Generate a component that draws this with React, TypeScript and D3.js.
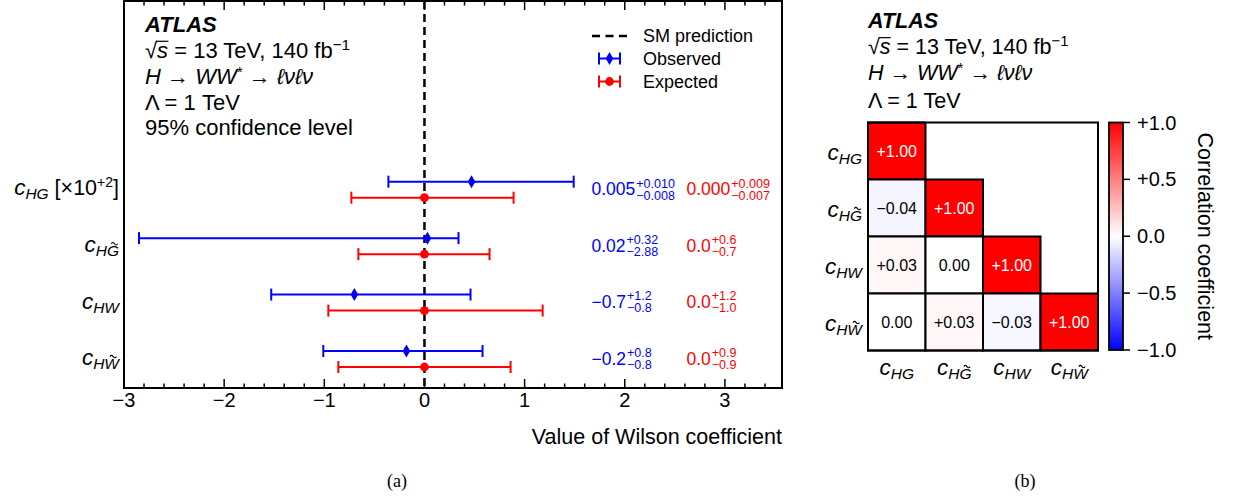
import React from 'react';
import * as d3 from 'd3';

// ---------- data ----------
const coefficients = ['HG', 'HG', 'HW', 'HW'];
const coefTilde = [false, true, false, true];
const obsCentral = [0.47, 0.03, -0.7, -0.18];
const obsLow = [-0.36, -2.85, -1.53, -1.01];
const obsHigh = [1.49, 0.34, 0.46, 0.58];
const expCentral = [0, 0, 0, 0];
const expLow = [-0.73, -0.66, -0.96, -0.86];
const expHigh = [0.89, 0.65, 1.18, 0.86];
const obsText = [
  ['0.005', '+0.010', '−0.008'],
  ['0.02', '+0.32', '−2.88'],
  ['−0.7', '+1.2', '−0.8'],
  ['−0.2', '+0.8', '−0.8'],
];
const expText = [
  ['0.000', '+0.009', '−0.007'],
  ['0.0', '+0.6', '−0.7'],
  ['0.0', '+1.2', '−1.0'],
  ['0.0', '+0.9', '−0.9'],
];
const xMajorTicks = [-3, -2, -1, 0, 1, 2, 3];
const xTickLabels = ['−3', '−2', '−1', '0', '1', '2', '3'];
const corrMatrix = [
  [1.0],
  [-0.04, 1.0],
  [0.03, 0.0, 1.0],
  [0.0, 0.03, -0.03, 1.0],
];
const corrText = [
  ['+1.00'],
  ['−0.04', '+1.00'],
  ['+0.03', '0.00', '+1.00'],
  ['0.00', '+0.03', '−0.03', '+1.00'],
];
const cbTicks = [1, 0.5, 0, -0.5, -1];
const cbTickLabels = ['+1.0', '+0.5', '0.0', '−0.5', '−1.0'];

// ---------- helpers ----------
const FONT = "'Liberation Sans', Arial, Helvetica, sans-serif";
const BLUE = '#0000ff';
const RED = '#ff0000';
const CW: Record<string, number> = {
  '0': 556, '1': 556, '2': 556, '3': 556, '4': 556, '5': 556, '6': 556, '7': 556, '8': 556, '9': 556,
  '.': 278, '+': 584, '−': 584, ' ': 278, H: 722, G: 778, W: 944, c: 500,
};
const textW = (s: string, fs: number) => s.split('').reduce((a, ch) => a + (CW[ch] ?? 556), 0) * fs / 1000;

function bwr(v: number) {
  const t = (v + 1) / 2;
  if (t < 0.5) return d3.rgb(2 * t * 255, 2 * t * 255, 255).toString();
  return d3.rgb(255, 2 * (1 - t) * 255, 2 * (1 - t) * 255).toString();
}

const tildePath = (cx: number, cy: number) =>
  `M${cx - 3.2},${cy + 0.8} q1.6,-2.4 3.2,0 t3.2,0`;

function CoefLabel({ x, y, sub, tilde, anchor, cs = 22.5, ss = 15.5 }:
  { x: number; y: number; sub: string; tilde: boolean; anchor: 'end' | 'middle'; cs?: number; ss?: number }) {
  const subW = textW(sub, ss);
  const cW = textW('c', cs);
  const xStart = anchor === 'end' ? x - cW - subW : x - (cW + subW) / 2;
  const lastW = textW(sub[sub.length - 1], ss);
  const xEndSub = xStart + cW + subW;
  const subBase = y + 4;
  return (
    <g>
      <text x={xStart} y={y} fontFamily={FONT} fontSize={cs} fontStyle="italic">
        c<tspan fontSize={ss} dy={4}>{sub}</tspan>
      </text>
      {tilde && (
        <path d={tildePath(xEndSub - lastW / 2 + 1.5, subBase - 13.2)} fill="none" stroke="#000" strokeWidth={1.1} />
      )}
    </g>
  );
}

export default function App() {
  const L = { left: 124, right: 782, top: 1, bottom: 388 };
  const x = d3.scaleLinear().domain([-3, 3.57]).range([L.left, L.right]);
  const y = d3.scaleLinear().domain([0, 3]).range([189.7, 359]);
  const minorTicks = d3.range(-3, 3.57, 0.2).filter((v) => Math.abs(v - Math.round(v)) > 1e-6);
  const capH = 6;

  const M = { left: 868, right: 1098, top: 122.5, bottom: 350.5 };
  const n = 4;
  const cx = d3.scaleBand<number>().domain(d3.range(n)).range([M.left, M.right]);
  const cy = d3.scaleBand<number>().domain(d3.range(n)).range([M.top, M.bottom]);
  const CB = { left: 1109, right: 1123, top: 122.5, bottom: 350 };
  const cbScale = d3.scaleLinear().domain([-1, 1]).range([CB.bottom, CB.top]);

  const errbar = (lo: number, hi: number, yy: number, color: string, key: string) => (
    <g key={key} stroke={color} strokeWidth={2}>
      <line x1={x(lo)} x2={x(hi)} y1={yy} y2={yy} />
      <line x1={x(lo)} x2={x(lo)} y1={yy - capH} y2={yy + capH} />
      <line x1={x(hi)} x2={x(hi)} y1={yy - capH} y2={yy + capH} />
    </g>
  );
  const diamond = (xx: number, yy: number) => `M${xx},${yy - 6.5} L${xx + 3.8},${yy} L${xx},${yy + 6.5} L${xx - 3.8},${yy} Z`;

  const valueAnn = (t: string[], x0: number, base: number, color: string, key: string) => {
    const fs = 17.5;
    const ss = 12.5;
    const xs = x0 + textW(t[0], fs) + 1;
    return (
      <g key={key} fill={color} fontFamily={FONT}>
        <text x={x0} y={base} fontSize={fs}>{t[0]}</text>
        <text x={xs} y={base - 7.7} fontSize={ss}>{t[1]}</text>
        <text x={xs} y={base + 4.3} fontSize={ss}>{t[2]}</text>
      </g>
    );
  };

  const infoLines = (x0: number, bases: number[], fs: number, withCL: boolean) => (
    <g fontFamily={FONT} fontSize={fs}>
      <text x={x0} y={bases[0]} fontWeight="bold" fontStyle="italic">ATLAS</text>
      <text x={x0} y={bases[1]}>
        √<tspan fontStyle="italic">s</tspan> = 13 TeV, 140 fb<tspan fontSize={fs * 0.7} dy={-8}>−1</tspan>
      </text>
      <line x1={x0 + fs * 0.5} x2={x0 + fs * 1.06} y1={bases[1] - fs * 0.76} y2={bases[1] - fs * 0.76} stroke="#000" strokeWidth={1.2} />
      <text x={x0} y={bases[2]}>
        <tspan fontStyle="italic">H</tspan> → <tspan fontStyle="italic">WW</tspan>
        <tspan fontSize={fs * 0.7} dy={-7}>*</tspan>
        <tspan dy={7}> → </tspan>
        <tspan fontStyle="italic">ℓνℓν</tspan>
      </text>
      <text x={x0} y={bases[3]}>Λ = 1 TeV</text>
      {withCL && <text x={x0} y={bases[4]}>95% confidence level</text>}
    </g>
  );

  return (
    <svg width={1239} height={499} style={{ position: 'absolute', left: 0, top: 0, background: '#fff' }}>
      <rect x={0} y={0} width={1239} height={499} fill="#fff" />
      <defs>
        <linearGradient id="bwr" x1="0" y1="1" x2="0" y2="0">
          <stop offset="0" stopColor="#0000ff" />
          <stop offset="0.5" stopColor="#ffffff" />
          <stop offset="1" stopColor="#ff0000" />
        </linearGradient>
      </defs>

      {/* ===== Left panel ===== */}
      <line x1={x(0)} x2={x(0)} y1={L.top} y2={L.bottom} stroke="#000" strokeWidth={2.5} strokeDasharray="8,5" />

      {coefficients.map((_, i) => (
        <g key={'row' + i}>
          {errbar(obsLow[i], obsHigh[i], y(i) - 8, BLUE, 'o' + i)}
          <path d={diamond(x(obsCentral[i]), y(i) - 8)} fill={BLUE} />
          {errbar(expLow[i], expHigh[i], y(i) + 8, RED, 'e' + i)}
          <circle cx={x(expCentral[i])} cy={y(i) + 8} r={4.4} fill={RED} />
          {valueAnn(obsText[i], 591.5, y(i) + 5.5, BLUE, 'vo' + i)}
          {valueAnn(expText[i], 686.5, y(i) + 5.5, RED, 've' + i)}
        </g>
      ))}

      {coefficients.map((s, i) =>
        i === 0 ? (
          <text key={'yl' + i} x={119} y={y(i) + 5.5} fontFamily={FONT} fontSize={21.5} textAnchor="end">
            <tspan fontStyle="italic" fontSize={22.5}>c</tspan>
            <tspan fontStyle="italic" fontSize={15.5} dy={4}>{s}</tspan>
            <tspan dy={-4}> [×10</tspan>
            <tspan fontSize={14} dy={-8}>+2</tspan>
            <tspan dy={8}>]</tspan>
          </text>
        ) : (
          <CoefLabel key={'yl' + i} x={119} y={y(i) + 6} sub={s} tilde={coefTilde[i]} anchor="end" />
        )
      )}

      <g stroke="#000" strokeWidth={1.5}>
        {xMajorTicks.map((t) => (
          <g key={'mt' + t}>
            <line x1={x(t)} x2={x(t)} y1={L.bottom} y2={L.bottom - 9} />
            <line x1={x(t)} x2={x(t)} y1={L.top} y2={L.top + 9} />
          </g>
        ))}
        {minorTicks.map((t, k) => (
          <g key={'nt' + k}>
            <line x1={x(t)} x2={x(t)} y1={L.bottom} y2={L.bottom - 4.5} />
            <line x1={x(t)} x2={x(t)} y1={L.top} y2={L.top + 4.5} />
          </g>
        ))}
      </g>
      {xMajorTicks.map((t, k) => (
        <text key={'tl' + t} x={x(t)} y={407} fontFamily={FONT} fontSize={20} textAnchor="middle">{xTickLabels[k]}</text>
      ))}
      <text x={L.right} y={444} fontFamily={FONT} fontSize={21.5} textAnchor="end">Value of Wilson coefficient</text>

      <rect x={L.left} y={L.top} width={L.right - L.left} height={L.bottom - L.top} fill="none" stroke="#000" strokeWidth={2} />

      {infoLines(145, [32, 58, 84, 110, 135], 22, true)}

      {/* legend */}
      <g>
        <line x1={592} x2={627} y1={36} y2={36} stroke="#000" strokeWidth={2.5} strokeDasharray="8,5.5" />
        <g stroke={BLUE} strokeWidth={2}>
          <line x1={599} x2={620} y1={58.5} y2={58.5} />
          <line x1={599} x2={599} y1={52.5} y2={64.5} />
          <line x1={620} x2={620} y1={52.5} y2={64.5} />
        </g>
        <path d={diamond(609.5, 58.5)} fill={BLUE} />
        <g stroke={RED} strokeWidth={2}>
          <line x1={599} x2={620} y1={81.5} y2={81.5} />
          <line x1={599} x2={599} y1={75.5} y2={87.5} />
          <line x1={620} x2={620} y1={75.5} y2={87.5} />
        </g>
        <circle cx={609.5} cy={81.5} r={4.4} fill={RED} />
        <g fontFamily={FONT} fontSize={18}>
          <text x={643} y={42}>SM prediction</text>
          <text x={643} y={65}>Observed</text>
          <text x={643} y={88}>Expected</text>
        </g>
      </g>

      {/* ===== Right panel ===== */}
      {infoLines(868, [28, 54, 80, 108], 21.5, false)}

      {corrMatrix.map((row, i) =>
        row.map((v, j) => (
          <g key={`c${i}-${j}`}>
            <rect x={cx(j)!} y={cy(i)!} width={cx.bandwidth()} height={cy.bandwidth()} fill={bwr(v)} stroke="#000" strokeWidth={2} />
            <text
              x={cx(j)! + cx.bandwidth() / 2}
              y={cy(i)! + cy.bandwidth() / 2 + 5.5}
              fontFamily={FONT}
              fontSize={16}
              textAnchor="middle"
              fill={Math.abs(v) > 0.5 ? '#fff' : '#000'}
            >
              {corrText[i][j]}
            </text>
          </g>
        ))
      )}
      <rect x={M.left} y={M.top} width={M.right - M.left} height={M.bottom - M.top} fill="none" stroke="#000" strokeWidth={2} />

      {coefficients.map((s, i) => (
        <CoefLabel key={'rl' + i} x={862} y={cy(i)! + cy.bandwidth() / 2 + 9} sub={s} tilde={coefTilde[i]} anchor="end" />
      ))}
      {coefficients.map((s, i) => (
        <CoefLabel key={'cl' + i} x={cx(i)! + cx.bandwidth() / 2} y={375} sub={s} tilde={coefTilde[i]} anchor="middle" />
      ))}

      <rect x={CB.left} y={CB.top} width={CB.right - CB.left} height={CB.bottom - CB.top} fill="url(#bwr)" stroke="#000" strokeWidth={1.8} />
      {cbTicks.map((t, k) => (
        <g key={'cb' + k}>
          <line x1={CB.right} x2={CB.right + 7} y1={cbScale(t)} y2={cbScale(t)} stroke="#000" strokeWidth={1.5} />
          <text x={1137} y={cbScale(t) + 7} fontFamily={FONT} fontSize={20}>{cbTickLabels[k]}</text>
        </g>
      ))}
      <text
        transform={`translate(1198, ${(CB.top + CB.bottom) / 2}) rotate(90)`}
        fontFamily={FONT}
        fontSize={21.5}
        textAnchor="middle"
      >
        Correlation coefficient
      </text>

      <g fontFamily="'Liberation Serif', 'Times New Roman', serif" fontSize={18}>
        <text x={397} y={487} textAnchor="middle">(a)</text>
        <text x={1025} y={487} textAnchor="middle">(b)</text>
      </g>
    </svg>
  );
}
